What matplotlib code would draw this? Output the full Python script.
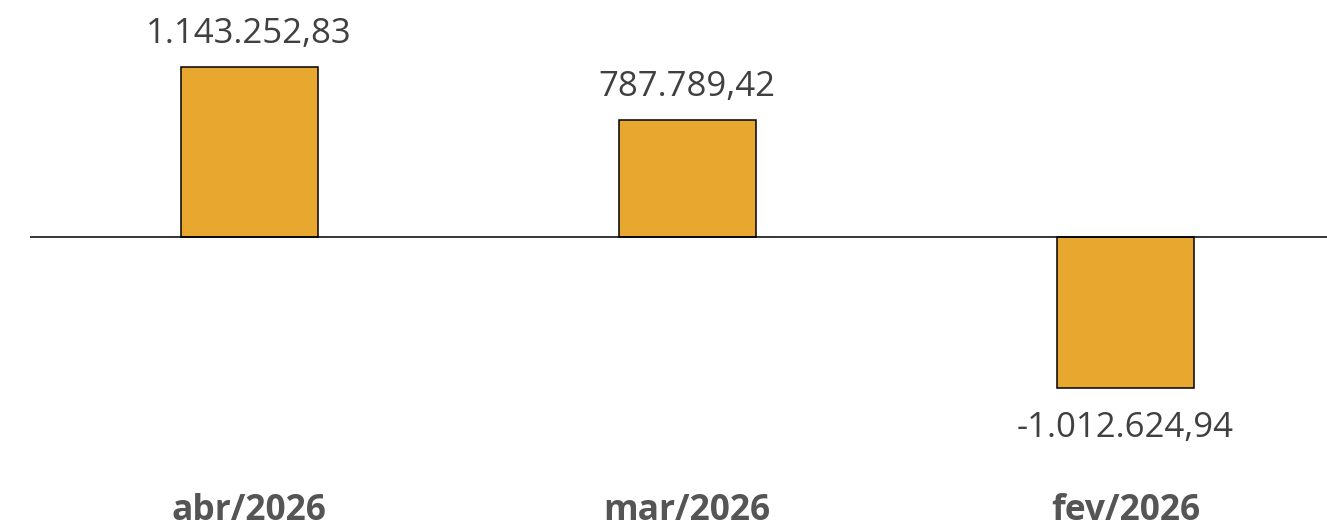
import matplotlib.pyplot as plt
import matplotlib.transforms as mtransforms

months = ["abr/2026", "mar/2026", "fev/2026"]
values = [1143252.83, 787789.42, -1012624.94]


def fmt_br(v):
    s = f"{v:,.2f}"
    return s.replace(",", "X").replace(".", ",").replace("X", ".")


plt.rcParams["font.family"] = ["Open Sans", "DejaVu Sans"]

fig = plt.figure(figsize=(13.27, 5.32), dpi=100)
ax = fig.add_axes([30 / 1327, 0, 1 - 30 / 1327, 1])

x = list(range(len(months)))
ax.bar(x, values, width=0.313, color="#E8A72E", edgecolor="black", linewidth=1.1, zorder=2)
ax.axhline(0, color="black", linewidth=1.1, zorder=3)

ax.set_xlim(-0.5, 2.46)
ax.set_ylim(-1984000, 1594000)

for xi, v in zip(x, values):
    off = 24.0 if v >= 0 else -29.0
    ax.annotate(fmt_br(v), (xi, v), xytext=(0, off), textcoords="offset points",
                ha="center", va="center", fontsize=25, color="#404040")

trans = mtransforms.blended_transform_factory(ax.transData, fig.transFigure)
for xi, m in zip(x, months):
    ax.text(xi, 1 - 511 / 532, m, transform=trans, ha="center", va="center",
            fontsize=25.5, fontweight="bold", color="#555555")

ax.axis("off")
fig.savefig("out.png", dpi=100)
